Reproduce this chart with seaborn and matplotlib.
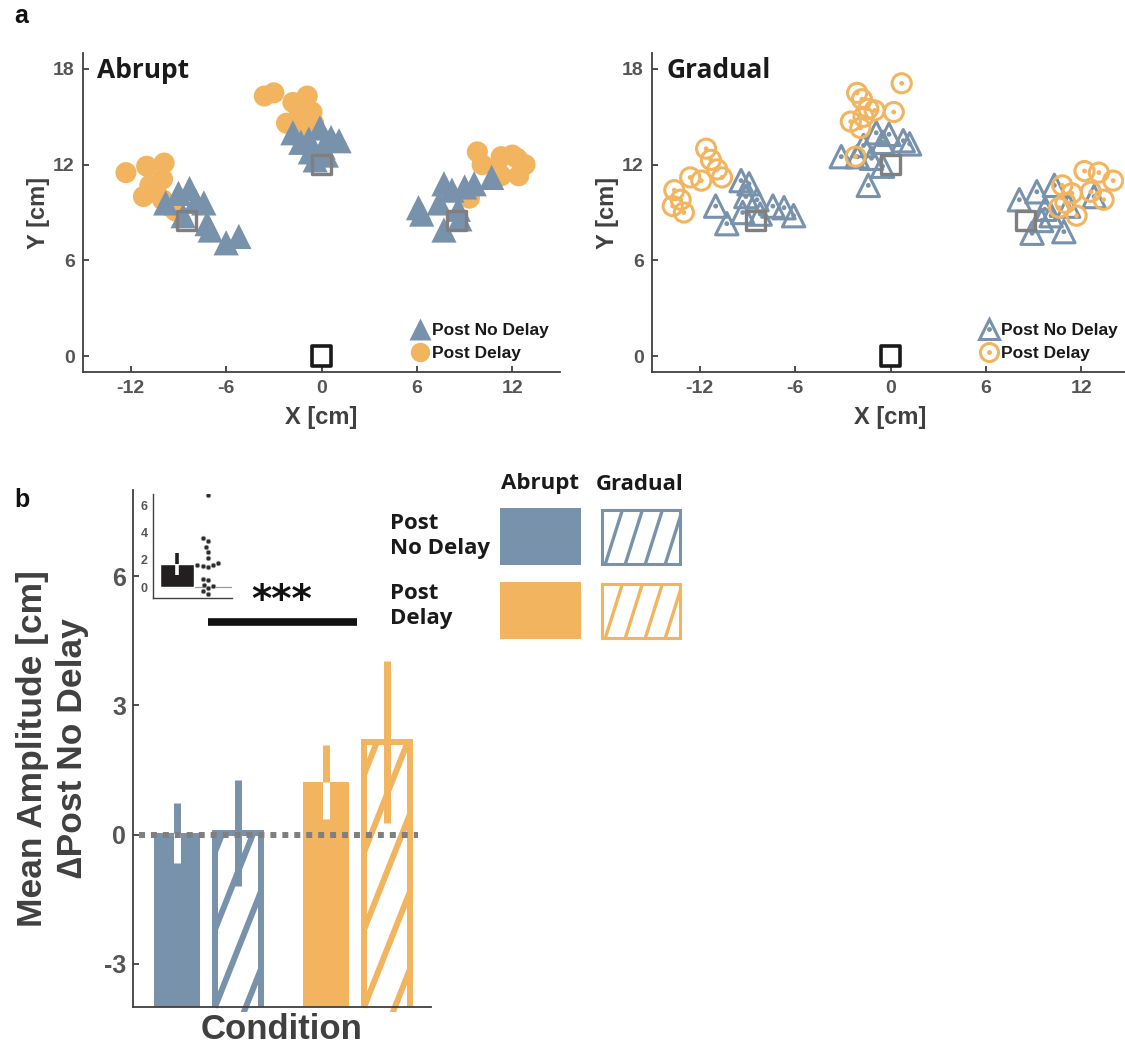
import numpy as np
import pandas as pd
import matplotlib
matplotlib.use('Agg')
import matplotlib.pyplot as plt
import seaborn as sns
from matplotlib.lines import Line2D
from matplotlib.patches import Rectangle


# ----------------------------------------------Data-----------------------------------------------

# Targets and home position [cm]
target_x = [-8.5, 0.0, 8.5]
target_y = [8.5, 12.0, 8.5]
home_x = [0.0]
home_y = [0.0]

# Abrupt, post no delay (blue triangles)
abrupt_nodelay_x = [-9.8, -9.0, -8.3, -7.9, -7.4, -8.7, -7.2, -7.0, -6.0, -5.2,
                    -1.8, -0.1, 0.6, 1.1, -1.3, -0.7, -0.4, 0.1, -0.8, 0.3,
                    6.1, 6.3, 7.7, 8.2, 9.0, 9.6, 10.7, 7.4, 8.6, 7.7, 8.7]
abrupt_nodelay_y = [9.6, 10.2, 10.5, 9.7, 9.6, 8.8, 8.3, 7.9, 7.1, 7.5,
                    14.0, 14.3, 13.7, 13.5, 13.4, 12.8, 12.3, 13.1, 13.6, 12.6,
                    9.3, 8.9, 10.8, 10.4, 10.6, 10.8, 11.2, 9.6, 9.2, 7.9, 8.6]

# Abrupt, post delay (orange circles)
abrupt_delay_x = [-12.3, -11.0, -9.9, -10.0, -10.8, -11.2, -10.4, -9.6, -9.2, -10.0,
                  -3.6, -3.0, -1.8, -0.9, -1.2, -2.2, -0.5, -1.5, -0.6, -1.0,
                  9.8, 10.1, 11.3, 12.0, 12.4, 12.8, 11.3, 9.3, 12.3, 11.0]
abrupt_delay_y = [11.5, 11.9, 12.1, 11.1, 10.7, 10.0, 10.3, 9.4, 9.1, 9.8,
                  16.3, 16.5, 15.9, 16.3, 15.4, 14.6, 14.6, 14.9, 15.3, 14.3,
                  12.8, 12.0, 12.5, 12.6, 11.3, 12.0, 11.3, 9.9, 12.4, 11.8]

# Gradual, post no delay (open blue triangles)
gradual_nodelay_x = [-11.0, -10.3, -9.4, -8.9, -9.1, -8.4, -9.3, -7.4, -6.7, -6.1, -8.2,
                     -3.1, -2.1, -1.4, -0.9, -0.1, -0.5, 0.8, 1.2, -0.5, -1.7, -1.2,
                     8.1, 9.2, 10.3, 8.9, 10.9, 9.5, 12.8, 9.7, 11.2, 10.1]
gradual_nodelay_y = [9.4, 8.3, 11.0, 10.8, 10.0, 9.8, 9.0, 9.4, 9.3, 8.8, 8.9,
                     12.5, 12.5, 10.7, 14.0, 13.9, 13.4, 13.5, 13.3, 11.9, 13.2, 12.4,
                     9.8, 10.3, 10.7, 7.7, 7.8, 8.5, 10.0, 9.2, 9.4, 8.8]

# Gradual, post delay (open orange circles)
gradual_delay_x = [-13.6, -13.2, -13.7, -13.0, -12.6, -11.9, -11.6, -11.3, -10.9, -10.6,
                   0.7, 0.2, -2.1, -1.8, -1.4, -2.5, -1.9, -1.0, -2.2, -1.7,
                   10.8, 12.2, 13.1, 14.0, 13.4, 11.7, 10.6, 11.4, 12.6, 11.0]
gradual_delay_y = [10.4, 9.8, 9.4, 9.0, 11.2, 11.0, 13.0, 12.3, 11.7, 11.2,
                   17.1, 15.3, 16.5, 16.1, 15.5, 14.7, 14.3, 15.4, 12.5, 15.0,
                   10.7, 11.6, 11.5, 11.0, 9.8, 8.8, 9.3, 10.2, 10.3, 9.6]

# Panel b: mean amplitude relative to post no delay [cm]
conditions = ['Post No Delay', 'Post Delay']
groups = ['Abrupt', 'Gradual']
abrupt_mean = [0.04, 1.22]
abrupt_err = [0.69, 0.86]
gradual_mean = [0.04, 2.15]
gradual_err = [1.22, 1.88]

# Inset: per participant difference
inset_mean = 1.68
inset_err = 0.78
inset_values = [6.7, 3.6, 3.4, 2.95, 2.6, 2.15, 1.75, 1.65, 1.6, 1.55, 1.5,
                0.6, 0.55, 0.15, 0.05, -0.1, -0.3, -0.5]

# Colours
BLUE = '#7892ac'
ORANGE = '#f2b45e'
GRAY = '#7f7f7f'
INK = '#404040'
TICK = '#555555'
cond_colors = [BLUE, ORANGE]


# ----------------------------------------------Style-----------------------------------------------

sns.set_style('ticks')
plt.rcParams['font.family'] = ['Liberation Sans', 'DejaVu Sans']
plt.rcParams['font.weight'] = 'bold'
plt.rcParams['axes.unicode_minus'] = False
TITLE_FONT = ['Open Sans', 'DejaVu Sans']

fig = plt.figure(figsize=(11.25, 10.47), dpi=100)


# Scatter helper
def draw_points(ax, xs, ys, marker, color, filled, size):
	if filled:
		sns.scatterplot(x=xs, y=ys, ax=ax, marker=marker, s=size, color=color,
						edgecolor='none', linewidth=0, legend=False)
	else:
		sns.scatterplot(x=xs, y=ys, ax=ax, marker=marker, s=size, color=color,
						facecolor='none', edgecolor=color, linewidth=2.2, legend=False)
		sns.scatterplot(x=xs, y=ys, ax=ax, marker='o', s=12, color=color,
						edgecolor='none', linewidth=0, legend=False)


def style_axes(ax, fs):
	sns.despine(ax=ax)
	for side in ['left', 'bottom']:
		ax.spines[side].set_color(INK)
		ax.spines[side].set_linewidth(1.3)
	ax.tick_params(direction='in', length=4, width=1.3, color=INK,
				   labelsize=fs, labelcolor=TICK, pad=6)
	for lab in ax.get_xticklabels() + ax.get_yticklabels():
		lab.set_fontweight('bold')


# ----------------------------------------------Panel a-----------------------------------------------

panel_a = [
	('Abrupt', [0.0738, 0.6447, 0.424, 0.3047],
	 (abrupt_delay_x, abrupt_delay_y), (abrupt_nodelay_x, abrupt_nodelay_y), True),
	('Gradual', [0.5796, 0.6447, 0.424, 0.3047],
	 (gradual_delay_x, gradual_delay_y), (gradual_nodelay_x, gradual_nodelay_y), False),
]

for title, rect, delay, nodelay, filled in panel_a:
	ax = fig.add_axes(rect)
	if filled:
		draw_points(ax, delay[0], delay[1], 'o', ORANGE, True, 230)
		draw_points(ax, nodelay[0], nodelay[1], '^', BLUE, True, 330)
	else:
		draw_points(ax, nodelay[0], nodelay[1], '^', BLUE, False, 260)
		draw_points(ax, delay[0], delay[1], 'o', ORANGE, False, 190)

	sns.scatterplot(x=target_x, y=target_y, ax=ax, marker='s', s=190, color=GRAY,
					facecolor='none', edgecolor=GRAY, linewidth=2.4, legend=False)
	sns.scatterplot(x=home_x, y=home_y, ax=ax, marker='s', s=190, color='#1a1a1a',
					facecolor='none', edgecolor='#1a1a1a', linewidth=2.6, legend=False)

	ax.set_xlim(-15, 15)
	ax.set_ylim(-1, 19)
	ax.set_xticks([-12, -6, 0, 6, 12])
	ax.set_yticks([0, 6, 12, 18])
	style_axes(ax, 14)
	ax.set_xlabel('X [cm]', fontsize=17, color=INK, fontweight='bold', labelpad=6)
	ax.set_ylabel('Y [cm]', fontsize=17, color=INK, fontweight='bold', labelpad=2)
	ax.text(0.03, 0.9216, title, transform=ax.transAxes, fontsize=19, fontweight='bold',
			family=TITLE_FONT, color='#1a1a1a', va='baseline')

	# Legend
	if filled:
		h1 = Line2D([], [], marker='^', ls='none', ms=16, color=BLUE, mec='none')
		h2 = Line2D([], [], marker='o', ls='none', ms=14, color=ORANGE, mec='none')
	else:
		h1 = (Line2D([], [], marker='^', ls='none', ms=15, mfc='none', mec=BLUE, mew=2.2),
			  Line2D([], [], marker='o', ls='none', ms=3.5, color=BLUE, mec='none'))
		h2 = (Line2D([], [], marker='o', ls='none', ms=13, mfc='none', mec=ORANGE, mew=2.2),
			  Line2D([], [], marker='o', ls='none', ms=3.5, color=ORANGE, mec='none'))
	leg = ax.legend([h1, h2], ['Post No Delay', 'Post Delay'], loc='lower right',
					bbox_to_anchor=(1.0, 0.0), frameon=False, handlelength=1.0,
					handletextpad=0.2, labelspacing=0.45, borderaxespad=0.25,
					prop={'weight': 'bold', 'size': 12.5})
	for t in leg.get_texts():
		t.set_color('#1a1a1a')

fig.text(0.013, 0.978, 'a', fontsize=18, fontweight='bold', color='#111111', va='baseline')
fig.text(0.013, 0.516, 'b', fontsize=18, fontweight='bold', color='#111111', va='baseline')


# ----------------------------------------------Panel b-----------------------------------------------

axb = fig.add_axes([0.1182, 0.0382, 0.265, 0.4938])

bar_df = pd.DataFrame({
	'cond': conditions * 2,
	'group': [groups[0]] * 2 + [groups[1]] * 2,
	'value': abrupt_mean + gradual_mean,
	'err': abrupt_err + gradual_err,
})

sns.barplot(data=bar_df, x='cond', y='value', hue='group', order=conditions, hue_order=groups,
			width=0.82, gap=0.24, errorbar=None, legend=False, ax=axb)

y_low = -4.0
slope = 8.7      # hatch slope in data units
spacing = 1.8    # hatch spacing in data units

for gi, cont in enumerate(axb.containers):
	for ci, bar in enumerate(cont):
		col = cond_colors[ci]
		row = bar_df[(bar_df['cond'] == conditions[ci]) & (bar_df['group'] == groups[gi])].iloc[0]
		top = row['value']
		err = row['err']
		xc = bar.get_x() + bar.get_width() / 2
		if gi == 0:
			bar.set_y(y_low)
			bar.set_height(top - y_low)
			bar.set_facecolor(col)
			bar.set_edgecolor('none')
			axb.vlines(xc, top, top + err, color=col, lw=5, zorder=4)
			axb.vlines(xc, top - err, top, color='white', lw=5, zorder=4)
		else:
			# open bottom: the outline runs just past the axis
			bar.set_y(y_low - 0.12)
			bar.set_height(top - y_low + 0.12)
			bar.set_clip_on(True)
			bar.set_facecolor('none')
			bar.set_edgecolor(col)
			bar.set_linewidth(4.3)
			x0 = bar.get_x()
			w = bar.get_width()
			for y0 in np.arange(y_low - slope * w - spacing + 0.9, top + spacing, spacing):
				ln, = axb.plot([x0, x0 + w], [y0, y0 + slope * w], color=col, lw=4.3,
							   solid_capstyle='butt', zorder=2)
				ln.set_clip_path(bar)
			axb.vlines(xc, top - err, top + err, color=col, lw=5, zorder=4)

axb.axhline(0, xmin=0.02, xmax=0.955, color=GRAY, lw=4.3, ls=(0, (1, 1)), zorder=5)

# Significance
axb.plot([0, 1], [4.93, 4.93], color='#111111', lw=5.5, solid_capstyle='butt')
axb.text(0.5, 4.98, '***', ha='center', va='bottom', fontsize=28, fontweight='bold',
		 color='#111111', family=['DejaVu Sans'])

axb.set_xlim(-0.5, 1.5)
axb.set_ylim(-4, 8)
axb.set_yticks([-3, 0, 3, 6])
axb.set_xticks([])
style_axes(axb, 18)
axb.tick_params(axis='y', pad=5)
axb.set_xlabel('Condition', fontsize=25, color=INK, fontweight='bold', labelpad=4)
axb.set_ylabel('Mean Amplitude [cm]\n\u2206Post No Delay', fontsize=25.5, color=INK,
			   fontweight='bold', labelpad=11, linespacing=1.25)


# ----------------------------------------------Inset-----------------------------------------------

axi = fig.add_axes([0.136, 0.4288, 0.0702, 0.0993])
sns.barplot(x=['mean'], y=[inset_mean], order=['mean', 'each'], color='#231f20',
			width=1.1, errorbar=None, ax=axi, saturation=1)
sns.swarmplot(x=['each'] * len(inset_values), y=inset_values, order=['mean', 'each'],
			  color='#2b2b2b', size=3.3, edgecolor='#9a9a9a', linewidth=0.5, ax=axi)
axi.vlines(0, inset_mean, inset_mean + inset_err, color='#231f20', lw=2.6, zorder=4)
axi.vlines(0, inset_mean - inset_err, inset_mean, color='white', lw=2.6, zorder=4)
axi.axhline(0, xmin=0.09, xmax=1.0, color='#9a9a9a', lw=0.9, zorder=0)
axi.set_xlim(-0.77, 1.77)
axi.set_ylim(-0.8, 6.8)
axi.set_yticks([0, 2, 4, 6])
axi.set_xticks([])
axi.set_xlabel('')
axi.set_ylabel('')
sns.despine(ax=axi)
for side in ['left', 'bottom']:
	axi.spines[side].set_color(INK)
	axi.spines[side].set_linewidth(1.0)
axi.tick_params(axis='y', length=0, labelsize=9, labelcolor=TICK, pad=4)
for lab in axi.get_yticklabels():
	lab.set_fontweight('bold')


# ----------------------------------------------Legend b-----------------------------------------------

lg = fig.add_axes([0, 0, 1, 1])
lg.set_xlim(0, 1125)
lg.set_ylim(1047, 0)
lg.axis('off')
lg.patch.set_alpha(0)

for ri, col in enumerate(cond_colors):
	y_top = 508 + ri * 74
	lg.add_patch(Rectangle((500, y_top), 81, 57, facecolor=col, edgecolor='none'))
	box = Rectangle((601.5, y_top + 1.5), 78, 54, facecolor='white', edgecolor=col, lw=2.2)
	lg.add_patch(box)
	for xs in np.arange(585, 690, 20):
		ln, = lg.plot([xs, xs + 18], [y_top + 57, y_top], color=col, lw=2.4)
		ln.set_clip_path(box)

lg.text(540, 484, 'Abrupt', ha='center', va='center', fontsize=16, fontweight='bold',
		family=TITLE_FONT, color='#1a1a1a')
lg.text(640, 484, 'Gradual', ha='center', va='center', fontsize=16, fontweight='bold',
		family=TITLE_FONT, color='#1a1a1a')
lg.text(390, 536, 'Post\nNo Delay', ha='left', va='center', fontsize=16, fontweight='bold',
		family=TITLE_FONT, color='#1a1a1a', linespacing=1.25)
lg.text(390, 606, 'Post\nDelay', ha='left', va='center', fontsize=16, fontweight='bold',
		family=TITLE_FONT, color='#1a1a1a', linespacing=1.25)

fig.savefig('out.png', dpi=100)
